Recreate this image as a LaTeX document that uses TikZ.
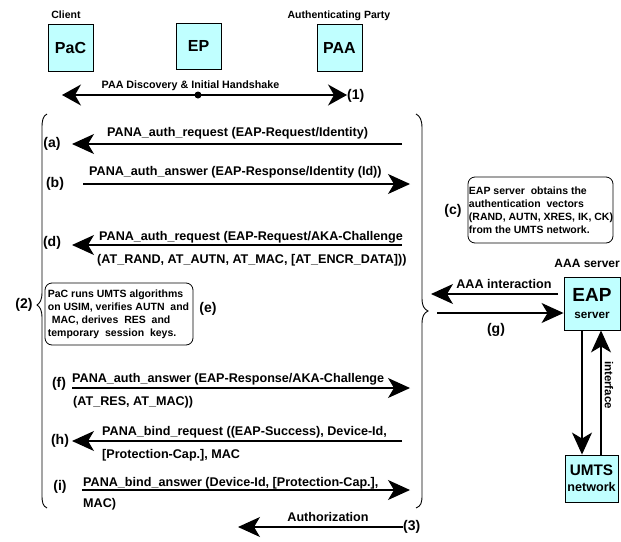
\documentclass[tikz,border=0pt]{standalone}
\usepackage{fontspec}
\setmainfont{Liberation Sans}
\usetikzlibrary{arrows.meta}
\definecolor{boxcyan}{RGB}{192,255,255}
\begin{document}
\begin{tikzpicture}[x=1pt,y=-1pt,
  ent/.style={draw, line width=0.9pt, fill=boxcyan, inner sep=0pt, align=center, font=\bfseries\fontsize{16}{18}\selectfont},
  msg/.style={line width=1.2pt, -{Stealth[length=22pt,width=20pt,inset=6pt]}},
  msgboth/.style={line width=1.2pt, {Stealth[length=19pt,width=21pt,inset=6pt]}-{Stealth[length=19pt,width=21pt,inset=6pt]}},
  lbl/.style={inner sep=0pt, font=\bfseries\fontsize{12.6}{14}\selectfont},
  tag/.style={inner sep=0pt, font=\bfseries\fontsize{14}{16}\selectfont},
  small/.style={inner sep=0pt, font=\bfseries\fontsize{10.5}{13}\selectfont},
  note/.style={draw, rounded corners=7pt, line width=0.8pt, inner sep=0pt},
  notetext/.style={inner sep=0pt, align=left, font=\bfseries\fontsize{10.5}{13}\selectfont},
  brace/.style={line width=0.9pt}
]
\useasboundingbox (0,0) rectangle (621,541);

% header
\node[small, anchor=base] (client) at (66,18) {Client};
\node[small, anchor=base] (authp) at (339,18) {Authenticating Party};
\node[ent, minimum width=45pt, minimum height=47pt] (pac) at (70.5,47.5) {PaC};
\node[ent, minimum width=45pt, minimum height=46pt] (ep) at (198.5,46) {EP};
\node[ent, minimum width=45pt, minimum height=47pt] (paa) at (339.5,47.5) {PAA};

% handshake
\coordinate (hL) at (62,95);
\coordinate (hR) at (347,95);
\node[circle, fill=black, inner sep=0pt, minimum size=7pt] (dot) at (198,95) {};
\draw[msgboth] (hL) -- (hR);
\node[small, anchor=base, font=\bfseries\fontsize{10.7}{13}\selectfont] (hs) at (190.5,88) {PAA Discovery \& Initial Handshake};
\node[tag, anchor=west] (t1) at (347,96) {(1)};

% braces
\draw[brace] (47,114) .. controls (43,116) and (42,120) .. (42,128) -- (42,292) .. controls (42,300) and (40,303) .. (37,305) .. controls (40,307) and (42,310) .. (42,318) -- (42,495) .. controls (42,503) and (43,506) .. (47,508);
\draw[brace] (416,114) .. controls (420,116) and (422,120) .. (422,128) -- (422,298) .. controls (422,306) and (424,309) .. (428,311) .. controls (424,313) and (422,316) .. (422,324) -- (422,495) .. controls (422,503) and (421,506) .. (416,508);
\node[tag] (t2) at (24,305) {(2)};

% (a)
\coordinate (a1) at (402,144); \coordinate (a2) at (72,144);
\draw[msg] (a1) -- (a2);
\node[lbl, anchor=base west] (la) at (107,136) {PANA\_auth\_request (EAP-Request/Identity)};
\node[tag] (ta) at (52,144) {(a)};

% (b)
\coordinate (b1) at (83,184); \coordinate (b2) at (410,184);
\draw[msg] (b1) -- (b2);
\node[lbl, anchor=base west] (lb) at (89,175) {PANA\_auth\_answer (EAP-Response/Identity (Id))};
\node[tag] (tb) at (55,184) {(b)};

% (c)
\node[note, minimum width=145pt, minimum height=66pt] (cbox) at (540.5,210) {};
\node[notetext] (ctext) at (541,210) {EAP server\ \ obtains the\\authentication\ \ vectors\\(RAND, AUTN, XRES, IK, CK)\\from the UMTS network.};
\node[tag] (tc) at (453,211) {(c)};

% (d)
\coordinate (d1) at (402,245); \coordinate (d2) at (72,245);
\draw[msg] (d1) -- (d2);
\node[lbl, anchor=base west] (ld1) at (99,240) {PANA\_auth\_request (EAP-Request/AKA-Challenge};
\node[lbl, anchor=base west] (ld2) at (97,263) {(AT\_RAND, AT\_AUTN, AT\_MAC, [AT\_ENCR\_DATA]))};
\node[tag] (td) at (52,243) {(d)};

% AAA server side
\node[lbl, anchor=base east, font=\bfseries\fontsize{12}{14}\selectfont] (aaas) at (620,267) {AAA server};
\node[ent, minimum width=56pt, minimum height=53pt] (eap) at (592,303.5) {{\fontsize{19}{20}\selectfont EAP}\\[-1pt]{\fontsize{11.7}{13}\selectfont server}};
\node[ent, minimum width=53pt, minimum height=47pt] (umts) at (591.5,478.5) {{\fontsize{15.3}{16}\selectfont UMTS}\\[-2pt]{\fontsize{12.6}{14}\selectfont network}};

\coordinate (aa1) at (558,294); \coordinate (aa2) at (431,294);
\draw[msg] (aa1) -- (aa2);
\node[lbl, anchor=base] (laa) at (504,288) {AAA interaction};
\coordinate (g1) at (437,313);
\draw[msg] (g1) -- (g1 -| eap.west);
\node[tag] (tg) at (496,330) {(g)};

\coordinate (dn) at (582,0); \coordinate (up) at (601,0);
\draw[msg] (eap.south -| dn) -- (umts.north -| dn);
\draw[msg] (umts.north -| up) -- (eap.south -| up);
\node[lbl, rotate=-90, font=\bfseries\fontsize{11.5}{13}\selectfont] (intf) at (609,385) {interface};

% (e)
\node[note, minimum width=148pt, minimum height=62pt] (ebox) at (119,314) {};
\node[notetext] (etext) at (118.5,314) {PaC runs UMTS algorithms\\on USIM, verifies AUTN\ \ and\\\hspace*{4pt}MAC, derives\ \ RES\ \ and\\temporary\ \ session\ \ keys.};
\node[tag] (te) at (208,309) {(e)};

% (f)
\coordinate (f1) at (72,388); \coordinate (f2) at (410,388);
\draw[msg] (f1) -- (f2);
\node[lbl, anchor=base west] (lf1) at (72,382) {PANA\_auth\_answer (EAP-Response/AKA-Challenge};
\node[lbl, anchor=base west] (lf2) at (73,405) {(AT\_RES, AT\_MAC))};
\node[tag] (tf) at (59,384) {(f)};

% (h)
\coordinate (h1) at (402,441); \coordinate (h2) at (72,441);
\draw[msg] (h1) -- (h2);
\node[lbl, anchor=base west] (lh1) at (102,435) {PANA\_bind\_request ((EAP-Success), Device-Id,};
\node[lbl, anchor=base west] (lh2) at (102,458) {[Protection-Cap.], MAC};
\node[tag] (th) at (60,441) {(h)};

% (i)
\coordinate (i1) at (82,490); \coordinate (i2) at (410,490);
\draw[msg] (i1) -- (i2);
\node[lbl, anchor=base west] (li1) at (83,486) {PANA\_bind\_answer (Device-Id, [Protection-Cap.],};
\node[lbl, anchor=base west] (li2) at (83,507) {MAC)};
\node[tag] (ti) at (60,487) {(i)};

% (3)
\coordinate (z1) at (403,527); \coordinate (z2) at (238,527);
\draw[msg] (z1) -- (z2);
\node[lbl, anchor=base] (lz) at (328,521) {Authorization};
\node[tag, anchor=west] (t3) at (403,527) {(3)};
\end{tikzpicture}
\end{document}
